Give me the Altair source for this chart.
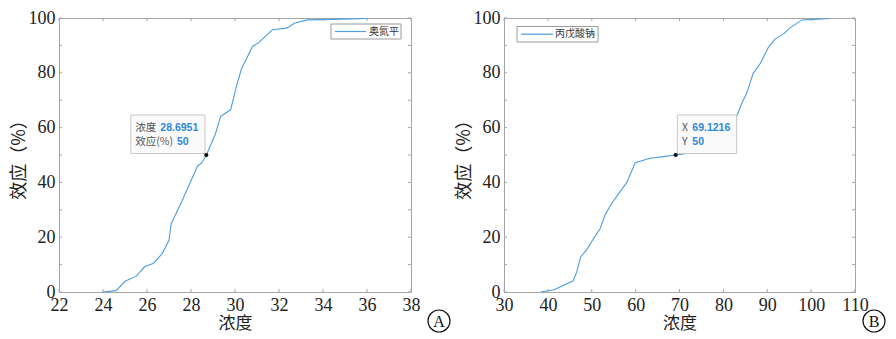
import altair as alt
import pandas as pd

# ---------------- data ----------------
a_name = "奥氮平"
a_conc = [24.0, 24.6, 25.0, 25.5, 25.9, 26.3, 26.7, 27.0, 27.1, 27.6, 27.9, 28.3,
          28.5, 28.7, 29.1, 29.35, 29.8, 30.1, 30.3, 30.8, 31.1, 31.7, 32.35,
          32.7, 33.3, 34.5, 36.0]
a_eff = [0, 0.5, 3.9, 5.7, 9.3, 10.5, 14.1, 18.9, 24.9, 33.4, 38.8, 46.0,
         47.2, 50.0, 57.5, 64.1, 66.5, 76.1, 81.6, 89.6, 91.2, 95.7, 96.3,
         98.1, 99.3, 99.5, 99.8]

b_name = "丙戊酸钠"
b_conc = [38.4, 41.4, 45.8, 46.6, 47.5, 48.8, 50.4, 51.9, 53.0, 54.5, 56.1,
          58.0, 59.9, 63.3, 66.3, 69.1, 71.6, 76.0, 80.0, 83.0, 84.2, 85.3,
          86.8, 88.4, 90.3, 91.8, 93.7, 95.2, 97.9, 100.5, 104.3]
b_eff = [0, 0.8, 4.1, 7.5, 12.9, 15.3, 19.5, 23.1, 28.0, 32.2, 35.8, 40.0,
         47.2, 48.8, 49.4, 50.0, 50.6, 53.0, 58.0, 64.0, 68.9, 72.5, 79.8,
         83.4, 89.4, 92.4, 94.2, 96.4, 99.3, 99.5, 99.8]

a_x_domain = [22, 38]
a_x_ticks = [22, 24, 26, 28, 30, 32, 34, 36, 38]
b_x_domain = [30, 110]
b_x_ticks = [30, 40, 50, 60, 70, 80, 90, 100, 110]
y_ticks = [0, 10, 20, 30, 40, 50, 60, 70, 80, 90, 100]
y_labels = [0, 20, 40, 60, 80, 100]

a_tip_x = [28.6951]
a_tip_y = [50]
a_tip_labels = ["浓度", "效应(%)"]
a_tip_values = ["28.6951", "50"]
b_tip_x = [69.1216]
b_tip_y = [50]
b_tip_labels = ["X", "Y"]
b_tip_values = ["69.1216", "50"]

x_title = "浓度"
y_title = "效应（%）"

# ---------------- style ----------------
LINE = "#4d9ee0"
FRAME = "#a6a6a6"
TXT = "#222222"
SERIF = "Liberation Serif"
CJK = "Noto Sans CJK SC"
SANS = "Liberation Sans"
W_A, W_B, H = 352, 351, 274


def panel(conc, eff, name, xdom, xticks, tip_x, tip_y, labels, values,
          box, lab_dx, val_dx, row_dy, leg_box, leg_line, leg_text_x, letter, letter_xy, W):
    df = pd.DataFrame({"x": conc, "y": eff})
    xs = alt.Scale(domain=xdom, nice=False, zero=False)
    ys = alt.Scale(domain=[0, 100], nice=False, zero=False)
    xaxis = alt.Axis(values=xticks, ticks=False, tickSize=0, domain=False, grid=False,
                     labelFont=SERIF, labelFontSize=18, labelColor=TXT, labelPadding=4,
                     labelFlush=False, title=x_title, titleFont=CJK, titleFontSize=17,
                     titleFontWeight="normal", titleColor=TXT, titlePadding=1)
    yaxis = alt.Axis(values=y_labels, ticks=False, tickSize=0, domain=False, grid=False,
                     labelFont=SERIF, labelFontSize=18, labelColor=TXT, labelPadding=4,
                     labelFlush=False, title=y_title, titleFont=CJK, titleFontSize=18,
                     titleFontWeight="normal", titleColor=TXT, titlePadding=0)
    X = alt.X("x:Q", scale=xs, axis=xaxis)
    Y = alt.Y("y:Q", scale=ys, axis=yaxis)
    line = alt.Chart(df).mark_line(strokeWidth=1.1, color=LINE).encode(x=X, y=Y)
    xt = pd.DataFrame({"x": xticks})
    yt = pd.DataFrame({"y": y_ticks})
    tb = alt.Chart(xt).mark_rule(color=FRAME, strokeWidth=1).encode(
        x=X, y=alt.value(H), y2=alt.value(H - 3))
    tt = alt.Chart(xt).mark_rule(color=FRAME, strokeWidth=1).encode(
        x=X, y=alt.value(0), y2=alt.value(3))
    tl = alt.Chart(yt).mark_rule(color=FRAME, strokeWidth=1).encode(
        y=Y, x=alt.value(0), x2=alt.value(3))
    tr = alt.Chart(yt).mark_rule(color=FRAME, strokeWidth=1).encode(
        y=Y, x=alt.value(W), x2=alt.value(W - 3))

    # legend box (drawn manually, MATLAB style)
    ldf = pd.DataFrame({"s": [name]})
    lrect = alt.Chart(ldf).mark_rect(fill="white", stroke="#9a9a9a", strokeWidth=1).encode(
        x=alt.value(leg_box[0]), x2=alt.value(leg_box[1]),
        y=alt.value(leg_box[2]), y2=alt.value(leg_box[3]))
    lline = alt.Chart(ldf).mark_rule(color=LINE, strokeWidth=1.2).encode(
        x=alt.value(leg_line[0]), x2=alt.value(leg_line[1]), y=alt.value(leg_line[2]))
    ltext = alt.Chart(ldf).mark_text(font=CJK, fontSize=10, color="#333333", align="left",
                                     baseline="middle").encode(
        text="s:N", x=alt.value(leg_text_x), y=alt.value(leg_line[2]))

    tdf = pd.DataFrame({"x": tip_x, "y": tip_y})
    rect = alt.Chart(tdf).mark_rect(
        fill="#fafafa", stroke="#c8c8c8", strokeWidth=1,
        xOffset=box[0], x2Offset=box[1], yOffset=box[2], y2Offset=box[3]).encode(
        x=X, x2="x", y=Y, y2="y")
    layers = [line, tb, tt, tl, tr, lrect, lline, ltext, rect]
    for i in range(2):
        layers.append(alt.Chart(tdf).mark_text(
            text=labels[i], font=CJK, fontSize=10.5, color="#555555", align="left",
            baseline="middle", dx=lab_dx, dy=row_dy[i]).encode(x=X, y=Y))
        layers.append(alt.Chart(tdf).mark_text(
            text=values[i], font=SANS, fontSize=10.5, fontWeight="bold", color="#2f88d8",
            align="left", baseline="middle", dx=val_dx[i], dy=row_dy[i]).encode(x=X, y=Y))
    dot = alt.Chart(tdf).mark_point(filled=True, color="#111111", size=18, opacity=1).encode(
        x=X, y=Y)
    layers.append(dot)
    circ = alt.Chart(tdf).mark_point(shape="circle", filled=False, stroke="#111111",
                                     strokeWidth=1.2, size=484, opacity=1).encode(
        x=alt.value(letter_xy[0]), y=alt.value(letter_xy[1]))
    let = alt.Chart(tdf).mark_text(text=letter, font=SERIF, fontSize=16, color="#111111",
                                   align="center", baseline="middle").encode(
        x=alt.value(letter_xy[0]), y=alt.value(letter_xy[1] + 1))
    layers += [circ, let]
    return alt.layer(*layers).properties(width=W, height=H)


pa = panel(a_conc, a_eff, a_name, a_x_domain, a_x_ticks, a_tip_x, a_tip_y,
           a_tip_labels, a_tip_values, box=(-75.5, -1.3, -40, -1.5),
           lab_dx=-71, val_dx=(-46, -29.3), row_dy=(-27.5, -13.2),
           leg_box=(272, 342, 6, 21), leg_line=(276, 307, 13.5), leg_text_x=310,
           letter="A", letter_xy=(380, 303), W=W_A)
pb = panel(b_conc, b_eff, b_name, b_x_domain, b_x_ticks, b_tip_x, b_tip_y,
           b_tip_labels, b_tip_values, box=(1.7, 61, -40, -1.5),
           lab_dx=6.3, val_dx=(16.7, 16.7), row_dy=(-27.5, -13.2),
           leg_box=(13, 94, 8.5, 24), leg_line=(17, 49, 16.2), leg_text_x=51,
           letter="B", letter_xy=(370, 303), W=W_B)

chart = alt.hconcat(pa, pb, spacing=93, bounds="flush").properties(
    padding={"left": 1, "top": 0, "right": 0, "bottom": 0}
).configure_view(stroke=FRAME, strokeWidth=1)

chart.save("out.html", embed_options={"renderer": "svg", "actions": False})
